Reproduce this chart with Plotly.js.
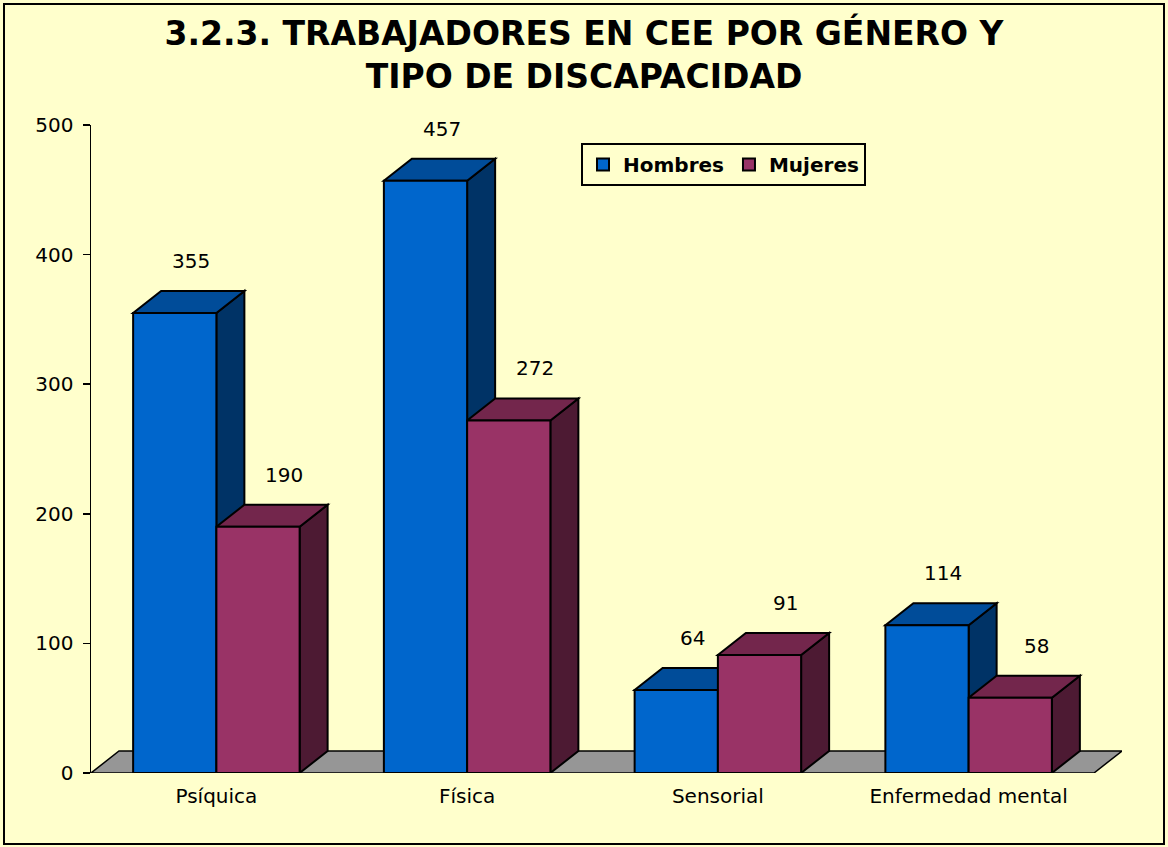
<!DOCTYPE html>
<html>
<head>
<meta charset="utf-8">
<script src="https://cdn.plot.ly/plotly-3.0.1.min.js"></script>
<style>
html,body{margin:0;padding:0;background:#FFFFCC;}
#chart{width:1168px;height:847px;}
#frame{position:absolute;left:3px;top:3px;width:1162px;height:842px;border:2px solid #000;box-sizing:border-box;pointer-events:none;}
</style>
</head>
<body>
<div id="chart"></div>
<div id="frame"></div>
<script>
// ---- data ----
const categories = ['Psíquica', 'Física', 'Sensorial', 'Enfermedad mental'];
const hombres = [355, 457, 64, 114];
const mujeres = [190, 272, 91, 58];
const seriesNames = ['Hombres', 'Mujeres'];
const yTicks = [0, 100, 200, 300, 400, 500];
const titleText = '3.2.3. TRABAJADORES EN CEE POR GÉNERO Y<br>TIPO DE DISCAPACIDAD';

// ---- styling / geometry ----
const FONT = 'DejaVu Sans, Verdana, sans-serif';
const colors = {
  Hombres: {front: '#0066CC', top: '#004C99', side: '#003366'},
  Mujeres: {front: '#993366', top: '#73264C', side: '#4D1A33'}
};
const FIG_W = 1168, FIG_H = 847;
const M = {l: 91, r: 46, t: 125, b: 74};
const plotW = FIG_W - M.l - M.r;
const plotH = FIG_H - M.t - M.b;
const depthPxX = 28, depthPxY = 22;
const n = categories.length;
const pxPerX = (plotW - depthPxX) / n;
const dX = depthPxX / pxPerX;
const yMax = 500;
const pxPerY = plotH / yMax;
const dY = depthPxY / pxPerY;
const bargap = 0.336;
const bw = (1 - bargap) / 2;
const xs = categories.map((_, i) => i);

function poly(pts) {
  return 'M' + pts.map(p => p[0] + ',' + p[1]).join('L') + 'Z';
}
const edge = {color: '#000', width: 2};

const shapes = [];
// floor
shapes.push({
  type: 'path', layer: 'below', xref: 'x', yref: 'y',
  path: poly([[-0.5, 0], [n - 0.5, 0], [n - 0.5 + dX, dY], [-0.5 + dX, dY]]),
  fillcolor: '#969696', line: {color: '#000', width: 1.5}
});

function faces(x0, x1, v, col) {
  shapes.push({
    type: 'path', layer: 'below', xref: 'x', yref: 'y',
    path: poly([[x1, 0], [x1 + dX, dY], [x1 + dX, v + dY], [x1, v]]),
    fillcolor: col.side, line: edge
  });
  shapes.push({
    type: 'path', layer: 'below', xref: 'x', yref: 'y',
    path: poly([[x0, v], [x1, v], [x1 + dX, v + dY], [x0 + dX, v + dY]]),
    fillcolor: col.top, line: edge
  });
}
xs.forEach((c, i) => {
  faces(c - bw, c, hombres[i], colors.Hombres);
  faces(c, c + bw, mujeres[i], colors.Mujeres);
});

const annotations = [];
const lblFont = {family: FONT, size: 20, color: '#000'};
xs.forEach((c, i) => {
  annotations.push({
    x: c - bw / 2, y: hombres[i] + dY, xref: 'x', yref: 'y',
    text: String(hombres[i]), showarrow: false, yanchor: 'bottom',
    xshift: 16, yshift: 16, font: lblFont
  });
  annotations.push({
    x: c + bw / 2, y: mujeres[i] + dY, xref: 'x', yref: 'y',
    text: String(mujeres[i]), showarrow: false, yanchor: 'bottom',
    xshift: 26, yshift: 16, font: lblFont
  });
});

const traces = [
  {type: 'bar', name: seriesNames[0], x: xs, y: hombres,
   marker: {color: colors.Hombres.front, line: {color: '#000', width: 2}}, hoverinfo: 'skip'},
  {type: 'bar', name: seriesNames[1], x: xs, y: mujeres,
   marker: {color: colors.Mujeres.front, line: {color: '#000', width: 2}}, hoverinfo: 'skip'}
];

const layout = {
  width: FIG_W, height: FIG_H,
  margin: M,
  paper_bgcolor: '#FFFFCC', plot_bgcolor: 'rgba(0,0,0,0)',
  barmode: 'group', bargap: bargap, bargroupgap: 0,
  font: {family: FONT, color: '#000'},
  title: {
    text: titleText, x: 0.5, xref: 'container', xanchor: 'center',
    y: 0.947, yref: 'container', yanchor: 'top',
    font: {family: FONT, size: 33, weight: 'bold', color: '#000'}
  },
  xaxis: {
    range: [-0.5, n - 0.5 + dX], tickvals: xs, ticktext: categories,
    showgrid: false, zeroline: false, showline: false, ticks: '',
    ticklabelstandoff: 9,
    tickfont: {family: FONT, size: 20, color: '#000'}, fixedrange: true
  },
  yaxis: {
    range: [0, yMax], tickvals: yTicks, showgrid: false, zeroline: false,
    showline: true, linecolor: '#000', linewidth: 1.5,
    ticks: 'outside', ticklen: 7, tickwidth: 1.5, tickcolor: '#000',
    ticklabelstandoff: 5,
    tickfont: {family: FONT, size: 20, color: '#000'}, fixedrange: true
  },
  showlegend: true,
  legend: {
    orientation: 'h', x: (581 - M.l) / plotW, y: (FIG_H - M.b - 143) / plotH,
    xanchor: 'left', yanchor: 'top', bgcolor: '#FFFFCC',
    bordercolor: '#000', borderwidth: 2, traceorder: 'normal',
    font: {family: FONT, size: 20, weight: 'bold', color: '#000'}
  },
  shapes: shapes,
  annotations: annotations
};

Plotly.newPlot('chart', traces, layout, {displayModeBar: false, staticPlot: true});
</script>
</body>
</html>
